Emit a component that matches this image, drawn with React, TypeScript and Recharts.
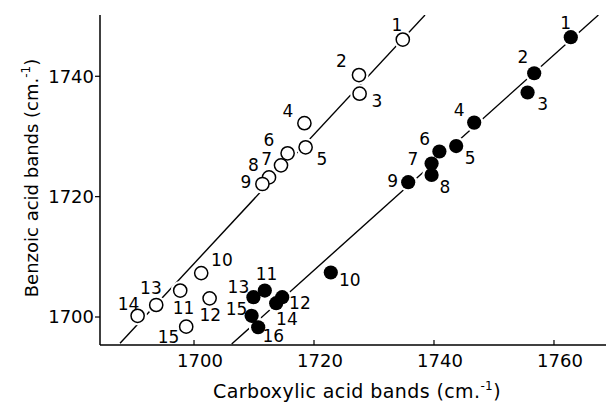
import React from 'react';
import { ScatterChart, Scatter, XAxis, YAxis } from 'recharts';

// ---- data (cm^-1) ----
const openLabels = ['1', '2', '3', '4', '5', '6', '7', '8', '9', '10', '11', '12', '13', '14', '15'];
const openX = [1734.8, 1727.5, 1727.6, 1718.4, 1718.6, 1715.6, 1714.5, 1712.5, 1711.4, 1701.2, 1697.7, 1702.6, 1693.7, 1690.6, 1698.7];
const openY = [1746.1, 1740.2, 1737.1, 1732.2, 1728.2, 1727.2, 1725.2, 1723.2, 1722.1, 1707.3, 1704.4, 1703.1, 1702.0, 1700.2, 1698.4];

const filledLabels = ['1', '2', '3', '4', '5', '6', '7', '8', '9', '10', '11', '12', '13', '14', '15', '16'];
const filledX = [1762.8, 1756.7, 1755.6, 1746.7, 1743.7, 1740.9, 1739.6, 1739.6, 1735.7, 1722.8, 1711.8, 1714.7, 1709.9, 1713.7, 1709.6, 1710.7];
const filledY = [1746.5, 1740.5, 1737.3, 1732.3, 1728.4, 1727.5, 1725.5, 1723.6, 1722.4, 1707.4, 1704.4, 1703.3, 1703.3, 1702.3, 1700.2, 1698.3];

// fitted straight lines (end points)
const openFitX = [1687.67, 1738.5];
const openFitY = [1695.65, 1750.17];
const filledFitX = [1706.28, 1767.4];
const filledFitY = [1695.5, 1750.17];

const xTicks = [1700, 1720, 1740, 1760];
const yTicks = [1700, 1720, 1740];
const xDomain = [1684.33, 1768.67];
const yDomain = [1695.35, 1750.18];

// ---- layout: label offsets from point centre (px) ----
const openLabelOffsets: [number, number][] = [
  [-6, -15], [-17.6, -14], [17.3, 6.7], [-16.6, -12.3], [16.4, 11.6],
  [-18.7, -13.3], [-14.3, -6.4], [-15.7, -12.7], [-16.6, -2.6], [20.7, -13.3],
  [3.3, 17.7], [0.7, 16.7], [-5.3, -16.7], [-9, -11.7], [-17.7, 10],
];
const filledLabelOffsets: [number, number][] = [
  [-5, -14], [-11.3, -16.6], [15, 11.3], [-15, -12.7], [14, 11.6],
  [-14.7, -12.4], [-18.7, -5], [13.3, 12.3], [-15.6, -1.6], [19, 7],
  [1.7, -16.7], [17.7, 5.7], [-15, -10], [10.7, 15.7], [-15, -6.7], [15, 8.3],
];

const FONT = '"DejaVu Sans", sans-serif';

const openData = openX.map((x, i) => ({ x, y: openY[i], label: openLabels[i], i }));
const filledData = filledX.map((x, i) => ({ x, y: filledY[i], label: filledLabels[i], i }));
const openFit = openFitX.map((x, i) => ({ x, y: openFitY[i] }));
const filledFit = filledFitX.map((x, i) => ({ x, y: filledFitY[i] }));

const Nothing = () => <g />;
const Halo = (p: any) => <circle cx={p.cx} cy={p.cy} r={9.5} fill="#fff" />;
const OpenDot = (p: any) => (
  <circle cx={p.cx} cy={p.cy} r={6.6} fill="#fff" stroke="#000" strokeWidth={1.5} />
);
const FilledDot = (p: any) => <circle cx={p.cx} cy={p.cy} r={7.1} fill="#000" />;
const makeLabel = (offsets: [number, number][]) => (p: any) => {
  const [dx, dy] = offsets[p.payload.i];
  return (
    <text
      x={p.cx + dx}
      y={p.cy + dy}
      dy="0.36em"
      textAnchor="middle"
      fontSize={17}
      fontFamily={FONT}
      fill="#000"
    >
      {p.payload.label}
    </text>
  );
};

const XTick = (p: any) => (
  <g>
    <line x1={p.x} x2={p.x} y1={p.y} y2={p.y - 5} stroke="#000" strokeWidth={1.2} />
    <text x={p.x + 6} y={p.y + 9} dy="0.71em" textAnchor="middle" fontSize={18} fontFamily={FONT} fill="#000">
      {p.payload.value}
    </text>
  </g>
);
const YTick = (p: any) => (
  <g>
    <line x1={p.x - 5} x2={p.x} y1={p.y} y2={p.y} stroke="#000" strokeWidth={1.2} />
    <text x={p.x - 6} y={p.y} dy="0.36em" textAnchor="end" fontSize={18} fontFamily={FONT} fill="#000">
      {p.payload.value}
    </text>
  </g>
);

const XTitle = (p: any) => {
  const vb = p.viewBox || { x: 100, y: 345, width: 506, height: 57 };
  return (
    <text x={vb.x + vb.width / 2 + 4} y={vb.y + 53} textAnchor="middle" fontSize={19} letterSpacing={0.4} fontFamily={FONT} fill="#000">
      Carboxylic acid bands (cm.
      <tspan fontSize={12} dy={-8}>-1</tspan>
      <tspan dy={8}>)</tspan>
    </text>
  );
};
const YTitle = (p: any) => {
  const vb = p.viewBox || { x: 0, y: 15, width: 100, height: 330 };
  const cx = 38;
  const cy = vb.y + vb.height / 2 - 2;
  return (
    <text x={cx} y={cy} transform={`rotate(-90 ${cx} ${cy})`} textAnchor="middle" fontSize={18} fontFamily={FONT} fill="#000">
      Benzoic acid bands (cm.
      <tspan fontSize={12} dy={-8}>-1</tspan>
      <tspan dy={8}>)</tspan>
    </text>
  );
};

export default function App() {
  return (
    <div style={{ position: 'absolute', left: 0, top: 0, background: '#fff' }}>
      <ScatterChart width={606} height={402} margin={{ top: 15, right: 0, bottom: 0, left: 0 }}>
        <XAxis
          type="number"
          dataKey="x"
          domain={xDomain}
          ticks={xTicks}
          interval={0}
          allowDataOverflow
          height={57}
          tickSize={0}
          tickMargin={0}
          tickLine={false}
          axisLine={{ stroke: '#000', strokeWidth: 1.5 }}
          tick={<XTick />}
          label={<XTitle />}
        />
        <YAxis
          type="number"
          dataKey="y"
          domain={yDomain}
          ticks={yTicks}
          interval={0}
          allowDataOverflow
          width={100}
          tickSize={0}
          tickMargin={0}
          tickLine={false}
          axisLine={{ stroke: '#000', strokeWidth: 1.5 }}
          tick={<YTick />}
          label={<YTitle />}
        />
        <Scatter data={openFit} stroke="#000" line={{ stroke: '#000', strokeWidth: 1.4 }} shape={Nothing} isAnimationActive={false} />
        <Scatter data={filledFit} stroke="#000" line={{ stroke: '#000', strokeWidth: 1.4 }} shape={Nothing} isAnimationActive={false} />
        <Scatter data={openData} shape={Halo} isAnimationActive={false} />
        <Scatter data={filledData} shape={Halo} isAnimationActive={false} />
        <Scatter data={openData} shape={OpenDot} isAnimationActive={false} />
        <Scatter data={filledData} shape={FilledDot} isAnimationActive={false} />
        <Scatter data={openData} shape={makeLabel(openLabelOffsets)} isAnimationActive={false} />
        <Scatter data={filledData} shape={makeLabel(filledLabelOffsets)} isAnimationActive={false} />
      </ScatterChart>
    </div>
  );
}
